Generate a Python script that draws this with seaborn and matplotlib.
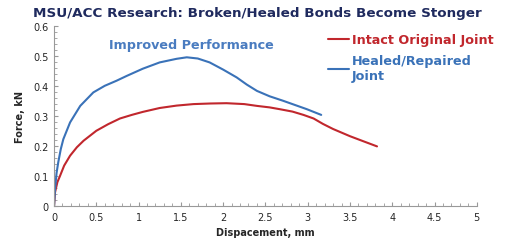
import numpy as np
import pandas as pd
import seaborn as sns
import matplotlib.pyplot as plt
from matplotlib.ticker import MultipleLocator, FuncFormatter

# values
intact_x = [0, 0.012, 0.04, 0.07, 0.12, 0.19, 0.27, 0.35, 0.50, 0.64, 0.78, 0.92, 1.05, 1.25,
            1.45, 1.65, 1.85, 2.04, 2.25, 2.40, 2.55, 2.67, 2.82, 2.95, 3.07, 3.18, 3.30,
            3.50, 3.65, 3.82]
intact_y = [0, 0.046, 0.08, 0.10, 0.135, 0.168, 0.196, 0.218, 0.251, 0.273, 0.292, 0.304,
            0.314, 0.327, 0.335, 0.340, 0.342, 0.343, 0.340, 0.334, 0.329, 0.323, 0.315,
            0.304, 0.292, 0.274, 0.257, 0.233, 0.217, 0.199]

healed_x = [0, 0.012, 0.03, 0.05, 0.08, 0.11, 0.19, 0.31, 0.465, 0.60, 0.74, 0.86, 1.05,
            1.25, 1.45, 1.57, 1.70, 1.84, 2.00, 2.16, 2.28, 2.40, 2.55, 2.71, 2.85, 2.99, 3.16]
healed_y = [0, 0.057, 0.11, 0.146, 0.19, 0.223, 0.279, 0.334, 0.379, 0.401, 0.418, 0.434,
            0.458, 0.479, 0.491, 0.496, 0.492, 0.479, 0.455, 0.429, 0.405, 0.384, 0.366,
            0.351, 0.337, 0.323, 0.304]

title = "MSU/ACC Research: Broken/Healed Bonds Become Stonger"
red = "#C1272D"
blue = "#3A72B8"

sns.set_style("white")
plt.rcParams['font.family'] = ['DejaVu Sans']

fig = plt.figure(figsize=(5.16, 2.51), dpi=100)
ax = fig.add_axes([0.1047, 0.175, 0.8193, 0.717])

sns.lineplot(x=intact_x, y=intact_y, ax=ax, color=red, linewidth=1.5,
             label="Intact Original Joint", sort=False)
sns.lineplot(x=healed_x, y=healed_y, ax=ax, color=blue, linewidth=1.5,
             label="Healed/Repaired\nJoint", sort=False)

ax.set_xlim(0, 5)
ax.set_ylim(0, 0.6)
ax.xaxis.set_major_locator(MultipleLocator(0.5))
ax.xaxis.set_minor_locator(MultipleLocator(0.1))
ax.yaxis.set_major_locator(MultipleLocator(0.1))
ax.yaxis.set_minor_locator(MultipleLocator(0.02))
fmt = FuncFormatter(lambda v, p: "0" if abs(v) < 1e-9 else f"{v:g}")
ax.xaxis.set_major_formatter(fmt)
ax.yaxis.set_major_formatter(fmt)
ax.tick_params(which='both', direction='in', color='#999999', labelsize=7, pad=4)
ax.tick_params(which='major', length=3)
ax.tick_params(which='minor', length=2)
ax.tick_params(axis='both', which='both', bottom=True, left=True)
sns.despine(ax=ax)
for s in ['left', 'bottom']:
    ax.spines[s].set_color('#999999')
    ax.spines[s].set_linewidth(0.8)

ax.set_xlabel("Dispacement, mm", fontsize=7, fontweight='bold', labelpad=4)
ax.set_ylabel("Force, kN", fontsize=7, fontweight='bold', labelpad=6)

ax.text(1.62, 0.54, "Improved Performance", color="#4A7CC0", fontsize=9.2,
        fontweight='bold', ha='center', va='center')

fig.text(0.498, 0.947, title, color="#1F2A5E", fontsize=9.7, fontweight='bold',
         ha='center', va='center')

ax.legend(loc='upper left', bbox_to_anchor=(0.62, 1.025), frameon=False,
          handlelength=1.7, handletextpad=0.2, labelspacing=0.65,
          labelcolor='linecolor', prop={'weight': 'bold', 'size': 9.2})

fig.savefig("out.png", dpi=100)
